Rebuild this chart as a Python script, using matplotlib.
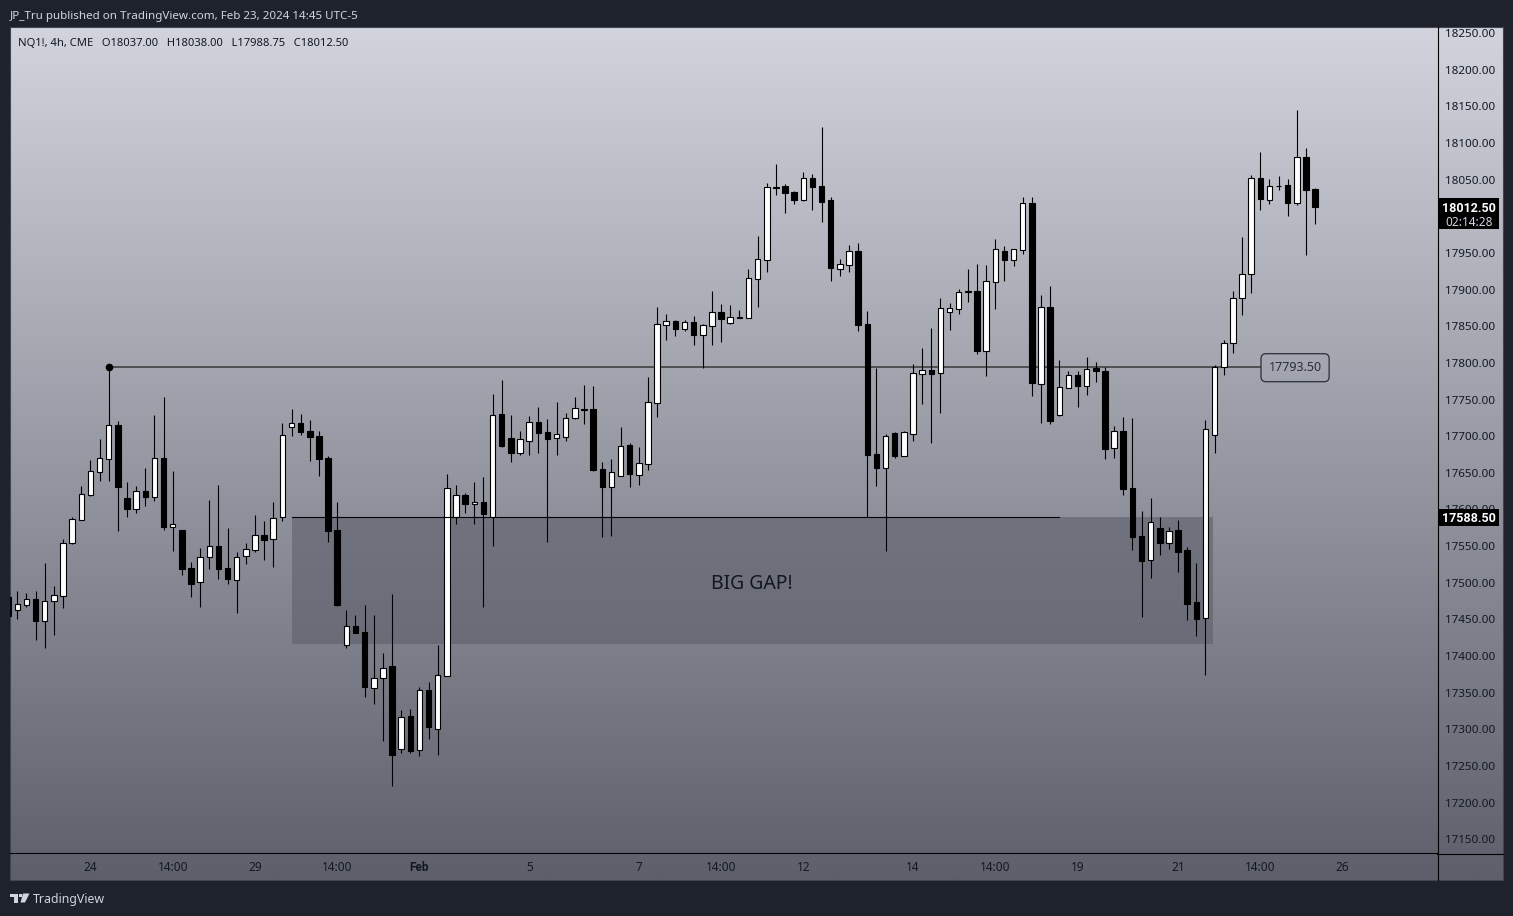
import numpy as np
import matplotlib
matplotlib.use("Agg")
import matplotlib.pyplot as plt
from matplotlib.lines import Line2D
from matplotlib.patches import Polygon, Rectangle, FancyBboxPatch
from matplotlib.transforms import ScaledTranslation

plt.rcParams['font.family'] = ['Noto Sans', 'DejaVu Sans']

# velas de 4h, NQ1!
opens = [17479,17461.3,17469,17476.8,17447.2,17473.6,17481.3,17553.7,17585,17619.2,
 17650.6,17668.3,17713.8,17614.2,17600.1,17623.7,17616.4,17668.8,17575.5,17570.5,
 17518.6,17499.5,17533.6,17548.6,17518.6,17502.2,17535,17544.1,17563.7,17558.2,
 17588.2,17711.1,17717,17706.1,17699.3,17669.2,17571,17414.4,17439.9,17431.7,
 17355.7,17369.4,17385.3,17272.5,17317.1,17271.1,17352.1,17299.8,17372.1,17588.2,
 17618.3,17606,17609.2,17589.2,17729.3,17696.5,17676.5,17692.9,17718.4,17704.7,
 17697,17698.4,17723.4,17735.2,17736.1,17654.2,17630.1,17645.1,17687,17646.5,
 17661.5,17744.8,17851.2,17856.2,17845.8,17854.9,17837.6,17849.9,17868.5,17853.9,
 17860.8,17860.8,17914,17939.9,18038.2,18040.5,18032.3,18021.9,18051.4,18040.5,
 18021.4,17927.7,17933.1,17951.8,17852.1,17674.7,17656,17703.4,17672.4,17702.4,
 17784.3,17789.4,17784.8,17868.9,17873.1,17896.3,17897.2,17815.7,17909.9,17951.8,
 17940,17953.6,18017.3,17770.7,17875.3,17727.9,17765.2,17782.5,17768,17792.1,
 17788,17683.3,17705.6,17628,17562.2,17529.8,17573.5,17552.9,17570.4,17543.2,
 17472.2,17450.6,17700.9,17793.5,17826.4,17888,17920.9,18052,18021.7,18040.2,
 18041.7,18017.6,18079.8,18037]
highs = [17479,17488.1,17484.5,17487.7,17525.9,17494.5,17558.2,17588.7,17630.5,17666.5,
 17694.7,17793.5,17719.3,17636.5,17631,17655.6,17727.9,17752.5,17651.5,17571,
 17527.3,17546.4,17611.9,17632.4,17573.7,17540.9,17553.2,17591.4,17583.2,17609.2,
 17717,17736.1,17729.3,17721.1,17706.1,17672,17609.2,17461.8,17454.9,17468.6,
 17454.9,17403.1,17483.6,17325.2,17326.6,17356.2,17363.5,17414,17647.4,17632.4,
 17621.5,17636.5,17643.3,17756.6,17775.7,17727.9,17706.1,17726.6,17738.9,17722.4,
 17745.7,17730.7,17752.5,17768.9,17767.5,17663.8,17667.9,17711.1,17689.7,17684.2,
 17779.8,17875.4,17865.8,17857.6,17857.6,17863.1,17852.1,17897.2,17879.4,17878,
 17871.2,17927.2,17972.3,18044.6,18070.5,18043.2,18033.7,18059.6,18056.9,18121,
 18025.5,17940.9,17960,17962.7,17869.9,17792.1,17702,17704.7,17706,17797.5,
 17819.4,17846.7,17887.6,17880.8,17899.9,17927.2,17934,17932.7,17968.2,17958.6,
 17954.1,18025.5,18025.5,17891.7,17904,17803,17788,17788,17807.1,17800.3,
 17793.5,17712.9,17724.6,17723.6,17597.6,17614.1,17589.4,17574.5,17585.3,17547.3,
 17525.7,17721.5,17796,17830,17896.8,17970.8,18056.1,18087,18049.9,18054.1,
 18049.9,18144,18092.1,18038]
lows = [17453.6,17449.9,17466.3,17420.8,17410.3,17427.6,17464.5,17551.8,17585,17617.4,
 17637.8,17637.8,17569.6,17588.7,17594.2,17603.7,17610.5,17571,17542.3,17509.5,
 17479.5,17465.8,17517.7,17504.1,17497.2,17457.7,17524.5,17540.9,17530,17520.4,
 17583.2,17699.3,17700.6,17665.1,17644.7,17554.6,17467.2,17409.9,17430.4,17343,
 17333.4,17282.9,17221.5,17267,17267,17262.5,17285.7,17263.8,17372.1,17579.1,
 17594.2,17579.1,17465.8,17549.1,17684.2,17663.8,17673.3,17673.3,17676,17554.6,
 17673.3,17692.4,17723,17715.6,17651.5,17561.4,17562.8,17645.1,17629.6,17632.4,
 17652.9,17725.2,17830.3,17835.8,17842.6,17823.5,17792.1,17823.5,17827.6,17852.1,
 17860.8,17860.8,17875.4,17923.1,18028.2,18003.6,18015.9,18020,18007.8,17991.4,
 17910.9,17917.7,17923.1,17842.6,17588.2,17631,17542.3,17669.2,17672.4,17692.4,
 17743,17689.7,17730.7,17843.9,17865.8,17882.2,17811.2,17781.2,17872.6,17910.8,
 17931.3,17947.7,17753.9,17717,17715.6,17726.6,17765.2,17738.8,17755.2,17773,
 17667.9,17669.2,17618.2,17543.2,17451.7,17505.1,17537.5,17545.7,17513.3,17447.6,
 17427,17372.5,17675.8,17782.2,17812.5,17864.4,17894.2,18007.8,18016,18035.6,
 17999.6,18014.5,17946.6,17988.75]
closes = [17453.6,17469.5,17476.3,17447.2,17473.6,17481.8,17552.7,17585.5,17619.6,17651,
 17668.8,17713.8,17630.1,17600.1,17623.7,17616.4,17668.8,17575.5,17578.7,17518.2,
 17497.7,17533.6,17548.6,17518.2,17504.5,17533.6,17544.6,17563.7,17557.8,17586.9,
 17700.2,17716.5,17704.7,17697.9,17668.3,17569.6,17468.6,17439.5,17430.4,17357.1,
 17368.5,17382.1,17263.8,17315.2,17269.3,17352.1,17302.1,17372.6,17627.8,17618.3,
 17606.4,17608.7,17592.8,17727.5,17685.6,17676,17694.7,17718,17703.4,17695.2,
 17701.5,17723.4,17737,17735.7,17652.9,17629.6,17649.7,17685.2,17647.4,17661.9,
 17745.2,17851.7,17855.8,17845.3,17854.4,17837.1,17850.8,17868.1,17859,17861.2,
 17861.2,17914.5,17940.4,18038.7,18038.7,18031,18021.4,18051,18039.1,18018.7,
 17928.6,17933.6,17951.3,17850.8,17673.3,17655.6,17698.8,17671.9,17704.3,17784.8,
 17788.9,17783.9,17873.5,17873.5,17895.4,17896.7,17815.3,17910.4,17954.1,17939.5,
 17954.1,18016.8,17771.6,17874.9,17719.7,17765.7,17782.1,17767.5,17790.3,17788,
 17681.5,17705.6,17626.4,17561.1,17529.3,17582.2,17552.9,17569.9,17541.6,17470.7,
 17450.1,17709.2,17794,17826.9,17888,17920.9,18052,18022.7,18040.7,18040.7,
 18017.6,18079.8,18035.6,18012.5]

# 18000 queda oculto por la etiqueta del ultimo precio
price_ticks = [p for p in range(17150, 18300, 50) if p != 18000]
time_ticks = [9, 18, 27, 36, 45, 57, 69, 78, 87, 99, 108, 117, 128, 137, 146]
time_labels = ['24', '14:00', '29', '14:00', 'Feb', '5', '7', '14:00', '12', '14', '14:00', '19', '21', '14:00', '26']

level_price = 17793.5
gap_top = 17588.5
gap_bottom = 17415.3
last_price = 18012.5
countdown = '02:14:28'
header = 'JP_Tru published on TradingView.com, Feb 23, 2024 14:45 UTC-5'
legend_text = 'NQ1!, 4h, CME   O18037.00   H18038.00   L17988.75   C18012.50'

W, H = 1513, 916

# pasar pixeles de la imagen a coordenadas de figura
def fx(px):
    return px / W
def fy(py):
    return 1 - py / H
def rect(x0, y0, x1, y1):
    return [fx(x0), fy(y1), (x1 - x0) / W, (y1 - y0) / H]

fig = plt.figure(figsize=(W / 100, H / 100), dpi=100, facecolor='#1e222d')

# fondo con degradado de todo el panel
bg = fig.add_axes(rect(10, 27, 1503, 880))
grad = np.linspace(0, 1, 256).reshape(-1, 1)
top_col = np.array([209, 212, 220]) / 255
bot_col = np.array([93, 96, 107]) / 255
bg.imshow(top_col + grad[:, :, None] * (bot_col - top_col), aspect='auto', interpolation='bilinear')
bg.set_xticks([])
bg.set_yticks([])
for s in bg.spines.values():
    s.set_color('#434651')
    s.set_linewidth(0.8)

ax = fig.add_axes(rect(10, 27, 1437, 853))
ax.patch.set_alpha(0)
ax.set_xlim(0.2, 156.33)
ax.set_ylim(17130.2, 18257.5)

xs = np.arange(len(opens))
o = np.array(opens)
c = np.array(closes)
up = c >= o
ax.vlines(xs, lows, highs, color='black', lw=0.8, zorder=3)
ax.bar(xs[up], (c - o)[up], bottom=o[up], width=0.6, color='white', edgecolor='black', lw=0.8, zorder=4)
ax.bar(xs[~up], (o - c)[~up], bottom=c[~up], width=0.6, color='black', edgecolor='black', lw=0.8, zorder=4)

# zona del gap
ax.add_patch(Rectangle((31, gap_bottom), 131.8 - 31, gap_top - gap_bottom, facecolor='#5d606b', alpha=0.6, lw=0, zorder=2))
ax.plot([31, 115], [gap_top, gap_top], color='black', lw=0.8, zorder=5)
ax.text(81.4, 17497.5, 'BIG GAP!', ha='center', va='center', fontsize=14, color='#131722', zorder=6)

# nivel 17793.50
ax.plot([11, 137], [level_price, level_price], color='#4f5052', lw=1.4, zorder=2.5)
ax.plot([11], [level_price], 'o', color='black', ms=4.5, zorder=6)
ax.text(140.8, level_price - 1, '17793.50', ha='center', va='center', fontsize=9, color='#2a2e39', zorder=6,
        bbox=dict(boxstyle='round,pad=0.6,rounding_size=0.4', fc='none', ec='#2a2e39', lw=0.9))

ax.set_xticks(time_ticks)
ax.set_xticklabels(time_labels, fontsize=8.5, color='#131722')
feb = ax.get_xticklabels()[4]
feb.set_family('Roboto')
feb.set_fontweight('bold')
ax.tick_params(axis='x', length=0, pad=6)
ax.yaxis.tick_right()
ax.set_yticks(price_ticks)
ax.set_yticklabels(['%.2f' % p for p in price_ticks], fontsize=8.4, color='#131722')
ax.tick_params(axis='y', length=0, pad=5.5)
# bajar un poco los precios de la escala
down = ScaledTranslation(0, -0.7 / 100, fig.dpi_scale_trans)
for lab in ax.get_yticklabels():
    lab.set_transform(lab.get_transform() + down)
for name in ['top', 'left', 'right']:
    ax.spines[name].set_visible(False)
ax.spines['bottom'].set_color('black')
ax.spines['bottom'].set_linewidth(0.8)

# separadores de escalas
fig.add_artist(Line2D([fx(1437.5), fx(1437.5)], [fy(27), fy(880)], color='black', lw=0.8))
fig.add_artist(Line2D([fx(1437), fx(1503)], [fy(853.5), fy(853.5)], color='black', lw=0.8))

# etiquetas negras de precio
def price_tag(y0, y1):
    fig.add_artist(FancyBboxPatch((fx(1438), fy(y1)), 61 / W, (y1 - y0) / H, boxstyle='square,pad=0',
                                  facecolor='black', edgecolor='none', transform=fig.transFigure, zorder=8))

price_tag(198, 229)
fig.text(fx(1469), fy(208.5), '%.2f' % last_price, ha='center', va='center', fontsize=9, fontweight='bold',
         family='Roboto', color='white', zorder=9)
fig.text(fx(1469), fy(222.5), countdown, ha='center', va='center', fontsize=8.5, color='#d1d4dc', zorder=9)
price_tag(509, 526)
fig.text(fx(1469), fy(519), '%.2f' % gap_top, ha='center', va='center', fontsize=9, fontweight='bold',
         family='Roboto', color='white', zorder=9)

fig.text(fx(10), fy(16.5), header, ha='left', va='center', fontsize=8.35, color='#d1d4dc')
fig.text(fx(18), fy(43), legend_text, ha='left', va='center', fontsize=8.07, color='#131722', zorder=9)

# logo de TradingView
logo = '#d1d4dc'
fig.add_artist(Polygon([(fx(10), fy(893.5)), (fx(18), fy(893.5)), (fx(18), fy(902.5)), (fx(13.5), fy(902.5)),
                        (fx(13.5), fy(897)), (fx(10), fy(897))], closed=True, color=logo, lw=0, transform=fig.transFigure))
fig.add_artist(Polygon([(fx(23), fy(893.5)), (fx(29.5), fy(893.5)), (fx(25), fy(902.5)), (fx(20.5), fy(902.5))],
                       closed=True, color=logo, lw=0, transform=fig.transFigure))
fig.add_artist(Polygon([(fx(19), fy(893.5)), (fx(22), fy(893.5)), (fx(22), fy(896.5)), (fx(19), fy(896.5))],
                       closed=True, color=logo, lw=0, transform=fig.transFigure))
fig.text(fx(33), fy(899.5), 'TradingView', ha='left', va='center', fontsize=8.9, color='#d1d4dc')

fig.savefig('out.png', dpi=100, facecolor=fig.get_facecolor())
